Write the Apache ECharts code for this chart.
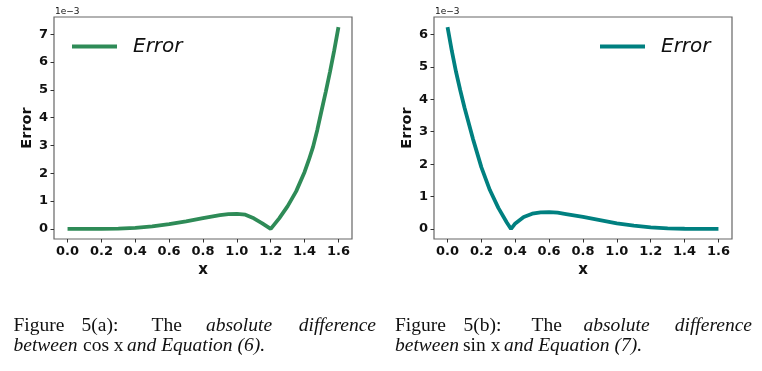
<!DOCTYPE html>
<html>
<head>
<meta charset="utf-8">
<script src="https://cdn.jsdelivr.net/npm/echarts@6/dist/echarts.min.js"></script>
<style>
html,body{margin:0;padding:0;background:#fff;}
#chart{width:762px;height:371px;}
</style>
</head>
<body>
<div id="chart"></div>
<script>
// ---- data (values in units of 1e-3) ----
var cosX = [0.00,0.10,0.20,0.30,0.40,0.50,0.60,0.70,0.80,0.85,0.90,0.95,1.00,1.05,1.10,1.15,1.20,1.25,1.30,1.35,1.40,1.425,1.45,1.475,1.50,1.525,1.55,1.575,1.60];
var cosErr = [0.000,0.000,0.003,0.012,0.040,0.090,0.170,0.275,0.390,0.445,0.495,0.530,0.540,0.510,0.380,0.200,0.000,0.380,0.820,1.350,2.050,2.480,2.950,3.560,4.250,4.930,5.650,6.420,7.260];
var sinX = [0.00,0.025,0.05,0.075,0.10,0.15,0.20,0.25,0.30,0.35,0.375,0.40,0.45,0.50,0.55,0.60,0.65,0.70,0.80,0.90,1.00,1.10,1.20,1.30,1.40,1.50,1.60];
var sinErr = [6.23,5.50,4.85,4.28,3.75,2.78,1.90,1.20,0.65,0.20,0.00,0.17,0.37,0.47,0.51,0.52,0.50,0.46,0.37,0.27,0.17,0.10,0.05,0.02,0.006,0.002,0.000];
var xTicks = [0,0.2,0.4,0.6,0.8,1.0,1.2,1.4,1.6];
var yTicksA = [0,1,2,3,4,5,6,7];
var yTicksB = [0,1,2,3,4,5,6];
var seriesName = 'Error';
var xName = 'x';
var yName = 'Error';
var offsetLabel = '1e\u22123';
var captionA1 = [['Figure',false],['5(a):',false],['The',false],['absolute',true],['difference',true]];
var captionA2 = [['between',true],['cos x',false],['and Equation (6).',true]];
var captionB1 = [['Figure',false],['5(b):',false],['The',false],['absolute',true],['difference',true]];
var captionB2 = [['between',true],['sin x',false],['and Equation (7).',true]];

function pairs(xs, ys){ return xs.map(function(x,i){return [x, ys[i]];}); }

var chart = echarts.init(document.getElementById('chart'), null, {renderer:'canvas'});
var labelStyle = {color:'#111', fontWeight:'bold', fontFamily:'DejaVu Sans', fontSize:13};
function xAxisDef(gi){
  return {
    type:'value', gridIndex:gi, min:-0.08, max:1.68,
    axisLine:{show:false, onZero:false},
    splitLine:{show:false},
    axisTick:{show:true, inside:false, length:3.5, lineStyle:{color:'#333', width:1}, customValues:xTicks},
    axisLabel:Object.assign({margin:6, customValues:xTicks, formatter:function(v){return v.toFixed(1);}}, labelStyle),
    name:xName, nameLocation:'middle', nameGap:19,
    nameTextStyle:{color:'#111', fontWeight:'bold', fontFamily:'DejaVu Sans', fontSize:15}
  };
}
function yAxisDef(gi, mn, mx, ticks){
  return {
    type:'value', gridIndex:gi, min:mn, max:mx,
    axisLine:{show:false, onZero:false},
    splitLine:{show:false},
    axisTick:{show:true, inside:false, length:3.5, lineStyle:{color:'#333', width:1}, customValues:ticks},
    axisLabel:Object.assign({margin:6, customValues:ticks, formatter:function(v){return String(Math.round(v));}}, labelStyle),
    name:yName, nameLocation:'middle', nameGap:17,
    nameTextStyle:{color:'#111', fontWeight:'bold', fontFamily:'DejaVu Sans', fontSize:14.5}
  };
}

var graphics = [];
function addText(x, y, text, size, family, italic, align){
  graphics.push({type:'text', x:x, y:y, silent:true,
    style:{text:text, fontSize:size, fontFamily:family, fontStyle:italic?'italic':'normal',
           fill:'#111', align:align||'left', verticalAlign:'middle'}});
}
addText(55, 12, offsetLabel, 9, 'DejaVu Sans', false);
addText(435, 12, offsetLabel, 9, 'DejaVu Sans', false);

function addCaption(words, xs, y){
  words.forEach(function(w, i){
    var align = 'left', x = xs[i];
    if (i === words.length - 1 && xs.length > words.length) { align = 'right'; x = xs[xs.length-1]; }
    addText(x, y, w[0], 19.5, 'Liberation Serif', w[1], align);
  });
}
addCaption(captionA1, [13.5, 81.5, 151.5, 206, 292.5, 376], 325.5);
addCaption(captionA2, [13.5, 83, 127], 346);
addCaption(captionB1, [395, 463.5, 531.5, 583.5, 670, 752], 325.5);
addCaption(captionB2, [395, 463, 504], 346);

var legendText = {fontFamily:'DejaVu Sans', fontStyle:'italic', fontSize:20, color:'#111', padding:[0,0,0,11]};
var option = {
  backgroundColor:'#fff',
  animation:false,
  grid:[
    {left:54, top:17, width:298, height:222, show:true, borderColor:'#666', borderWidth:1.2, containLabel:false},
    {left:434, top:17, width:298, height:222, show:true, borderColor:'#666', borderWidth:1.2, containLabel:false}
  ],
  xAxis:[xAxisDef(0), xAxisDef(1)],
  yAxis:[yAxisDef(0, -0.363, 7.623, yTicksA), yAxisDef(1, -0.311, 6.541, yTicksB)],
  legend:[
    {left:72, top:36.5, padding:0, icon:'rect', itemWidth:45, itemHeight:4, selectedMode:false,
     data:[{name:seriesName, itemStyle:{color:'#2E8B57'}}], textStyle:legendText},
    {left:600, top:36.5, padding:0, icon:'rect', itemWidth:45, itemHeight:4, selectedMode:false,
     data:[{name:seriesName, itemStyle:{color:'#008080'}}], textStyle:legendText}
  ],
  series:[
    {name:seriesName, type:'line', xAxisIndex:0, yAxisIndex:0, data:pairs(cosX, cosErr),
     showSymbol:false, symbol:'none', lineStyle:{color:'#2E8B57', width:3.8}, itemStyle:{color:'#2E8B57'}},
    {name:seriesName, type:'line', xAxisIndex:1, yAxisIndex:1, data:pairs(sinX, sinErr),
     showSymbol:false, symbol:'none', lineStyle:{color:'#008080', width:3.8}, itemStyle:{color:'#008080'}}
  ],
  graphic:graphics
};
chart.setOption(option);
</script>
</body>
</html>
